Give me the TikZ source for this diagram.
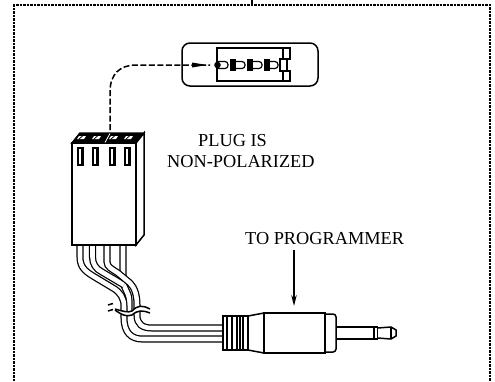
\documentclass[tikz,border=0pt]{standalone}
\usepackage{fontspec}
\setmainfont{Liberation Serif}
\usetikzlibrary{arrows.meta}
\tikzset{
  ink/.style={line width=1.5pt},
  wire/.style={line width=1.25pt,double=white,double distance=4.55pt},
  label/.style={inner sep=0pt,font=\fontsize{18.3}{20}\selectfont}
}
\begin{document}
\begin{tikzpicture}
  [x=1pt,y=-1pt]
  \useasboundingbox (0,0) rectangle (495,381);

  \draw[line width=1.6pt,dash pattern=on 2.5pt off 1pt] (14,381) -- (14,5) -- (490,5) -- (490,381);
  \draw[ink] (252,0) -- (252,5);

  \node[label,anchor=west] (plugis) at (198,140.5) {PLUG IS};
  \node[label,anchor=west] (nonpol) at (167,161.5) {NON-POLARIZED};
  \node[label,anchor=west] (toprog) at (245,239) {TO PROGRAMMER};

  \coordinate (jack) at (294,306);
  \draw[ink,-{Stealth[length=11pt,width=5.5pt]}] (294,250) -- (jack);

  % pin view
  \draw[ink,rounded corners=8pt] (182,43) rectangle (318,86);
  \draw[ink] (283,48) -- (217,48) -- (217,81) -- (283,81);
  \draw[ink] (283,48) rectangle (290,59);
  \draw[ink,fill=white] (280,59) rectangle (287,71);
  \draw[ink] (283,71) rectangle (290,81);
  \foreach \x/\y in {218/228,235/245,252/262,269/278}
    \draw[line width=1.2pt,rounded corners=3pt] (\x,61.5) -- (\y,61.5) -- (\y,68.5) -- (\x,68.5);
  \fill (217.5,65) circle (3.3);
  \foreach \x in {230,247,264}
    \fill (\x,59) rectangle (\x+5.5,71);
  \coordinate (top) at (110,130);
  \coordinate (pin) at (210,65);
  \draw[ink,dash pattern=on 6pt off 2.5pt] (top) -- (110,92) .. controls (110,74) and (120,65) .. (136,65) -- (pin);
  \fill (207,65) -- (192,62.5) -- (192,67.5) -- cycle;

  % wires
  \draw[wire] (123,245) -- (123,280) .. controls (123,288) and (129,292) .. (129,300) -- (129,312);
  \draw[wire] (92.5,245) -- (92.5,257) .. controls (92.5,264) and (96,269) .. (102,272) -- (124,285);
  \draw[wire] (80,245) -- (80,257) .. controls (80,267) and (85,271) .. (93,276) -- (113,288) .. controls (120,292) and (124,298) .. (124,306) -- (124,318) .. controls (124,332) and (131,339) .. (142,339) -- (223,339);
  \draw[wire] (107,245) -- (107,262) .. controls (107,267) and (112,269) .. (118,273) -- (130,283) .. controls (135,288) and (137,296) .. (137,305) -- (137,315) .. controls (137,324) and (142,328) .. (152,328) -- (223,328);

  % break in the wires
  \fill[white] (115,309) .. controls (122,311) and (128,313) .. (132,311) .. controls (138,305) and (142,305) .. (150,309)
    -- (150,313) .. controls (142,310) and (138,310) .. (132,315) .. controls (126,317) and (122,315) .. (115,310) -- cycle;
  \draw[ink] (108,305) -- (113,303.5);
  \draw[ink] (108,311) -- (113,309.5);
  \draw[ink] (115,309) .. controls (122,311) and (128,313) .. (132,311) .. controls (138,305) and (142,305) .. (150,309);
  \draw[ink] (115,310) .. controls (122,315) and (126,317) .. (132,315) .. controls (138,310) and (142,310) .. (150,313);

  % housing
  \draw[ink,fill=white] (72,143) rectangle (136,245);
  \draw[ink,fill=black] (72,143) -- (80,133) -- (144,133) -- (136,143) -- cycle;
  \draw[ink,fill=white] (136,143) -- (144,133) -- (144,235) -- (136,245) -- cycle;
  \foreach \x in {79,94,111,126}
    {
    \fill[white] (\x,136) -- (\x+7,136) -- (\x+5,139) -- (\x-2,139) -- cycle;
    \draw[black,line width=.8pt] (\x,139) -- (\x+4,135.5);
    }
  \foreach \x in {78,93,110,125}
    \draw[line width=2.3pt] (\x,148) rectangle (\x+4.5,165);
  \draw[white,line width=.8pt] (110,133.5) -- (105,142.5);

  % phone plug
  \draw[ink,fill=white] (223,316) rectangle (248,350);
  \foreach \x in {227,232,237,240,243}
    \draw[ink] (\x,316) -- (\x,350);
  \draw[ink] (248,316) -- (264,313) -- (264,353) -- (248,350);
  \draw[line width=1.8pt] (264,313) rectangle (325,353);
  \draw[ink,rounded corners=3pt] (325,314) -- (336,314) -- (336,352) -- (325,352);
  \draw[ink] (336,327) -- (374,327) -- (374,339) -- (336,339);
  \draw[ink] (374,327) rectangle (377.5,339);
  \draw[ink] (377.5,328) -- (391,327) -- (396,330) -- (396,336) -- (391,339) -- (377.5,338);
  \draw[ink] (391,327) -- (391,339);
\end{tikzpicture}
\end{document}
